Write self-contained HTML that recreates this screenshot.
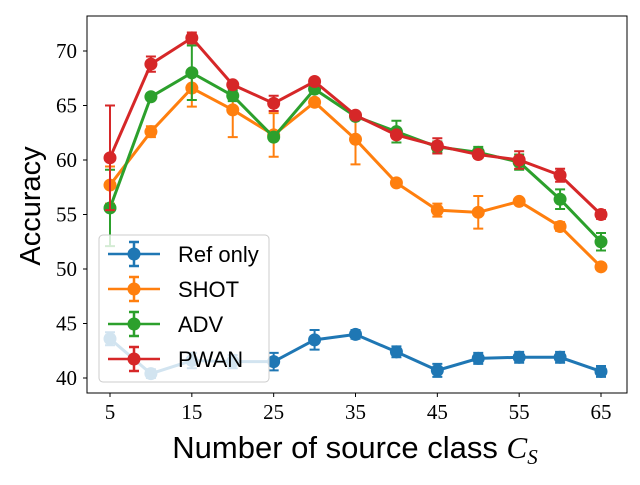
<!DOCTYPE html>
<html><head><meta charset="utf-8"><style>
body{margin:0;background:#fff;width:640px;height:480px;overflow:hidden}
svg text{font-family:"Liberation Serif",serif}
.sans{font-family:"Liberation Sans",sans-serif}
</style></head><body>
<svg id="chart" width="640" height="480" xmlns="http://www.w3.org/2000/svg">
<rect x="0" y="0" width="640" height="480" fill="#fff"/>
<g id="marks"></g>
<rect x="87" y="16" width="540" height="377" fill="none" stroke="#000" stroke-width="1"/>
<g id="ticks"></g>
<text class="sans" x="355" y="458" font-size="31" text-anchor="middle">Number of source class <tspan font-family="Liberation Serif" font-style="italic">C</tspan><tspan font-family="Liberation Serif" font-style="italic" font-size="21" dy="6">S</tspan></text>
<text class="sans" transform="translate(40,206) rotate(-90)" font-size="29" text-anchor="middle">Accuracy</text>
<g id="legend"></g>
</svg>
<script>
const categories=[5,10,15,20,25,30,35,40,45,50,55,60,65];
const seriesNames=["Ref only","SHOT","ADV","PWAN"];
const seriesColors=["#1f77b4","#ff7f0e","#2ca02c","#d62728"];
const refOnly=[43.6,40.4,41.6,41.5,41.5,43.5,44.0,42.4,40.7,41.8,41.9,41.9,40.6];
const refErr=[0.6,0.4,0.7,0.6,0.8,0.9,0.4,0.5,0.6,0.5,0.5,0.5,0.5];
const shot=[57.7,62.6,66.6,64.6,62.3,65.3,61.9,57.9,55.4,55.2,56.2,53.9,50.2];
const shotErr=[1.7,0.5,1.7,2.5,2.0,0.3,2.3,0.2,0.6,1.5,0.2,0.4,0.3];
const adv=[55.6,65.8,68.0,65.9,62.1,66.5,64.0,62.6,61.2,60.7,59.8,56.4,52.5];
const advErr=[3.5,0.2,2.5,0.5,0.3,0.3,0.3,1.0,0.5,0.5,0.7,0.9,0.8];
const pwan=[60.2,68.8,71.2,66.9,65.2,67.2,64.1,62.3,61.3,60.5,60.0,58.6,55.0];
const pwanErr=[4.8,0.7,0.5,0.2,0.7,0.2,0.2,0.3,0.7,0.3,0.8,0.6,0.4];
const xTicks=[5,15,25,35,45,55,65];
const yTicks=[40,45,50,55,60,65,70];
const NS="http://www.w3.org/2000/svg";
function xs(v){return 110+(v-5)*(601-110)/60;}
function ys(v){return 378-(v-40)*(378-51)/30;}
function mk(tag,attrs,parent){const e=document.createElementNS(NS,tag);for(const k in attrs)e.setAttribute(k,attrs[k]);parent.appendChild(e);return e;}
const marks=document.getElementById('marks');
const allVals=[refOnly,shot,adv,pwan], allErr=[refErr,shotErr,advErr,pwanErr];
allVals.forEach((vals,si)=>{
  const c=seriesColors[si];
  const g=mk('g',{},marks);
  
  
  const pts=vals.map((v,i)=>xs(categories[i])+','+ys(v)).join(' ');
  mk('polyline',{points:pts,fill:'none',stroke:c,'stroke-width':3},g);
  vals.forEach((v,i)=>{
    const x=xs(categories[i]),e=allErr[si][i];
    const y1=ys(v+e),y2=ys(v-e);
    const eb=mk('path',{d:`M${x},${y1}V${y2}M${x-5},${y1}H${x+5}M${x-5},${y2}H${x+5}`,stroke:c,'stroke-width':2,fill:'none'},g);
    
    
    const p=mk('circle',{cx:x,cy:ys(v),r:6.5,fill:c},g);
    
    
  });
});
const ticks=document.getElementById('ticks');
xTicks.forEach(t=>{
  const x=xs(t);
  mk('line',{x1:x,x2:x,y1:393,y2:397,stroke:'#000'},ticks);
  const tx=mk('text',{x:x,y:419,'font-size':21,'text-anchor':'middle'},ticks);
  tx.textContent=t;
  
  
});
yTicks.forEach(t=>{
  const y=ys(t);
  mk('line',{x1:83,x2:87,y1:y,y2:y,stroke:'#000'},ticks);
  const tx=mk('text',{x:77,y:y+7,'font-size':21,'text-anchor':'end'},ticks);
  tx.textContent=t;
  
  
});
const lg=document.getElementById('legend');
mk('rect',{x:99,y:235,width:170,height:147,rx:4,fill:'#fff','fill-opacity':0.8,stroke:'#ccc'},lg);
seriesNames.forEach((n,i)=>{
  const y=254+i*35,c=seriesColors[i];
  const e=mk('g',{},lg);
  
  
  mk('path',{d:`M108,${y}H160M134,${y-12}V${y+12}M129,${y-12}H139M129,${y+12}H139`,stroke:c,'stroke-width':2.5,fill:'none'},e);
  mk('circle',{cx:134,cy:y,r:6.5,fill:c},e);
  const t=mk('text',{x:178,y:y+8,'font-size':22,class:'sans'},e);
  t.textContent=n;
});
</script>
</body></html>
